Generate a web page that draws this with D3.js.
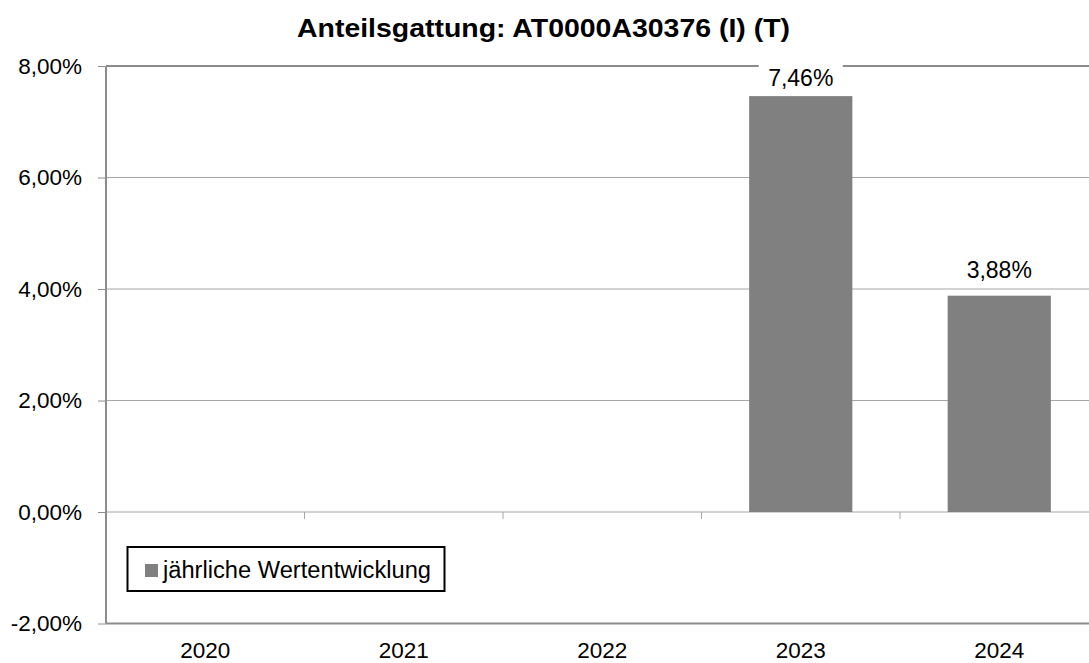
<!DOCTYPE html>
<html><head><meta charset="utf-8">
<script src="https://cdn.jsdelivr.net/npm/d3@7"></script>
<style>body{margin:0;background:#fff}svg{display:block}text{font-family:"Liberation Sans",Arial,sans-serif}</style>
</head><body>
<svg id="c" width="1089" height="663"></svg>
<script>
const title = "Anteilsgattung: AT0000A30376 (I) (T)";
const categories = ["2020","2021","2022","2023","2024"];
const values = [null,null,null,7.46,3.88];
const yTicks = [-2,0,2,4,6,8];
const legendLabel = "jährliche Wertentwicklung";

const svg = d3.select("#c");
const m = {left:106, top:66, right:1098.5, bottom:623.5};
const x = d3.scaleBand().domain(categories).range([m.left,m.right]).paddingInner(0).paddingOuter(0);
const y = d3.scaleLinear().domain([-2,8]).range([m.bottom,m.top]);
const fmt = v => v.toFixed(2).replace(".",",")+"%";
const FS = 22.5;

// gridlines
svg.append("g").selectAll("line").data(yTicks.filter(t=>t>-2&&t<8)).join("line")
  .attr("x1",m.left).attr("x2",m.right).attr("y1",d=>y(d)).attr("y2",d=>y(d))
  .attr("stroke","#a6a6a6").attr("stroke-width",1);
// top border
svg.append("line").attr("x1",m.left).attr("x2",m.right).attr("y1",y(8)).attr("y2",y(8))
  .attr("stroke","#8c8c8c").attr("stroke-width",2);

// y axis
const yAxis = d3.axisLeft(y).tickValues(yTicks).tickSize(8).tickPadding(16).tickFormat(fmt);
const ga = svg.append("g").attr("transform",`translate(${m.left},0)`).call(yAxis);
ga.select(".domain").attr("stroke","#8c8c8c").attr("stroke-width",2).attr("d",`M0,${m.top}V${m.bottom}`);
ga.selectAll(".tick line").attr("stroke","#8c8c8c").attr("stroke-width",1);
ga.selectAll(".tick text").attr("font-size",FS).attr("fill","#000").attr("font-family","Liberation Sans, Arial, sans-serif");

// category ticks on zero line
svg.append("g").selectAll("line").data(categories.slice(1)).join("line")
  .attr("x1",d=>x(d)).attr("x2",d=>x(d)).attr("y1",y(0)).attr("y2",y(0)+7)
  .attr("stroke","#a6a6a6").attr("stroke-width",1);

// bottom axis line
svg.append("line").attr("x1",m.left).attr("x2",m.right).attr("y1",m.bottom).attr("y2",m.bottom)
  .attr("stroke","#8c8c8c").attr("stroke-width",2);

// x labels
svg.append("g").selectAll("text").data(categories).join("text")
  .attr("x",d=>x(d)+x.bandwidth()/2).attr("y",658).attr("text-anchor","middle")
  .attr("font-size",22.5).attr("fill","#000").text(d=>d);

// bars
const bw = x.bandwidth()*0.52;
const data = categories.map((c,i)=>({c,v:values[i]})).filter(d=>d.v!=null);
svg.append("g").selectAll("rect").data(data).join("rect")
  .attr("x",d=>x(d.c)+(x.bandwidth()-bw)/2).attr("width",bw)
  .attr("y",d=>y(Math.max(0,d.v))).attr("height",d=>Math.abs(y(d.v)-y(0)))
  .attr("fill","#808080");

// value labels with white background
const lg = svg.append("g").selectAll("g").data(data).join("g")
  .attr("transform",d=>`translate(${x(d.c)+x.bandwidth()/2},${Math.max(y(d.v)-18, m.top+20)})`);
lg.append("rect").attr("x",-42).attr("y",-22).attr("width",84).attr("height",27).attr("fill","#fff");
lg.append("text").attr("text-anchor","middle").attr("font-size",23).attr("fill","#000")
  .text(d=>fmt(d.v));

// title
svg.append("text").attr("x",543.5).attr("y",37).attr("text-anchor","middle")
  .attr("font-size",26.5).attr("font-weight","bold").attr("fill","#000")
  .attr("textLength",493).attr("lengthAdjust","spacingAndGlyphs").text(title);

// legend
const leg = svg.append("g");
leg.append("rect").attr("x",127.5).attr("y",547).attr("width",317).attr("height",44)
  .attr("fill","#fff").attr("stroke","#000").attr("stroke-width",2);
leg.append("rect").attr("x",145).attr("y",564).attr("width",13).attr("height",13).attr("fill","#808080");
leg.append("text").attr("x",163).attr("y",578).attr("font-size",23).attr("fill","#000")
  .attr("textLength",268).attr("lengthAdjust","spacingAndGlyphs").text(legendLabel);
</script>
</body></html>
